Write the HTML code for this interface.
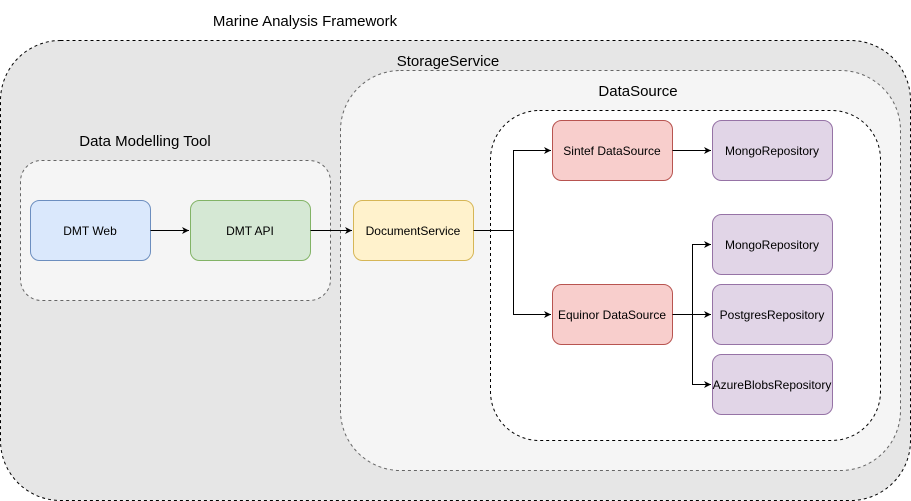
<!DOCTYPE html>
<html><head><meta charset="utf-8"><style>body{margin:0;background:#fff}svg{display:block}</style></head>
<body>
<svg width="911" height="501" viewBox="0 0 911 501" xmlns="http://www.w3.org/2000/svg" font-family="Liberation Sans, sans-serif">
<defs><marker id="a" markerWidth="8" markerHeight="8" refX="7" refY="4" orient="auto" markerUnits="userSpaceOnUse"><path d="M0,0.5 L7,4 L0,7.5 L2,4 Z" fill="#000"/></marker></defs>
<rect x="0.5" y="40.5" width="910" height="460" rx="60" fill="#e6e6e6" stroke="#000" stroke-dasharray="3,3"/>
<text x="305" y="26" font-size="15" text-anchor="middle">Marine Analysis Framework</text>
<rect x="340.5" y="70.5" width="560" height="400" rx="60" fill="#f5f5f5" stroke="#666" stroke-dasharray="3,3"/>
<text x="448" y="66" font-size="15" text-anchor="middle">StorageService</text>
<rect x="490.5" y="110.5" width="390" height="330" rx="49" fill="#fff" stroke="#000" stroke-dasharray="3,3"/>
<text x="638" y="96" font-size="15" text-anchor="middle">DataSource</text>
<rect x="20.5" y="160.5" width="310" height="140" rx="21" fill="#f5f5f5" stroke="#666" stroke-dasharray="3,3"/>
<text x="145" y="146" font-size="15" text-anchor="middle">Data Modelling Tool</text>
<g stroke-width="1" font-size="12" text-anchor="middle">
<rect x="30.5" y="200.5" width="120" height="60" rx="9" fill="#dae8fc" stroke="#6c8ebf"/><text x="90" y="235">DMT Web</text>
<rect x="190.5" y="200.5" width="120" height="60" rx="9" fill="#d5e8d4" stroke="#82b366"/><text x="250" y="235">DMT API</text>
<rect x="353.5" y="200.5" width="120" height="60" rx="9" fill="#fff2cc" stroke="#d6b656"/><text x="413" y="235">DocumentService</text>
<rect x="552.5" y="120.5" width="120" height="60" rx="9" fill="#f8cecc" stroke="#b85450"/><text x="612" y="155">Sintef DataSource</text>
<rect x="552.5" y="284.5" width="120" height="60" rx="9" fill="#f8cecc" stroke="#b85450"/><text x="612" y="319">Equinor DataSource</text>
<rect x="712.5" y="120.5" width="120" height="60" rx="9" fill="#e1d5e7" stroke="#9673a6"/><text x="772" y="155">MongoRepository</text>
<rect x="712.5" y="214.5" width="120" height="60" rx="9" fill="#e1d5e7" stroke="#9673a6"/><text x="772" y="249">MongoRepository</text>
<rect x="712.5" y="284.5" width="120" height="60" rx="9" fill="#e1d5e7" stroke="#9673a6"/><text x="772" y="319">PostgresRepository</text>
<rect x="712.5" y="354.5" width="120" height="60" rx="9" fill="#e1d5e7" stroke="#9673a6"/><text x="772" y="389">AzureBlobsRepository</text>
</g>
<g stroke="#000" fill="none" marker-end="url(#a)">
<path d="M150.5,230.5 H189"/>
<path d="M310.5,230.5 H352"/>
<path d="M473.5,230.5 H513.5 V150.5 H551"/>
<path d="M473.5,230.5 H513.5 V314.5 H551"/>
<path d="M672.5,150.5 H711"/>
<path d="M672.5,314.5 H692.5 V244.5 H711"/>
<path d="M692.5,314.5 H711"/>
<path d="M692.5,314.5 V384.5 H711"/>
</g>
</svg>
</body></html>
